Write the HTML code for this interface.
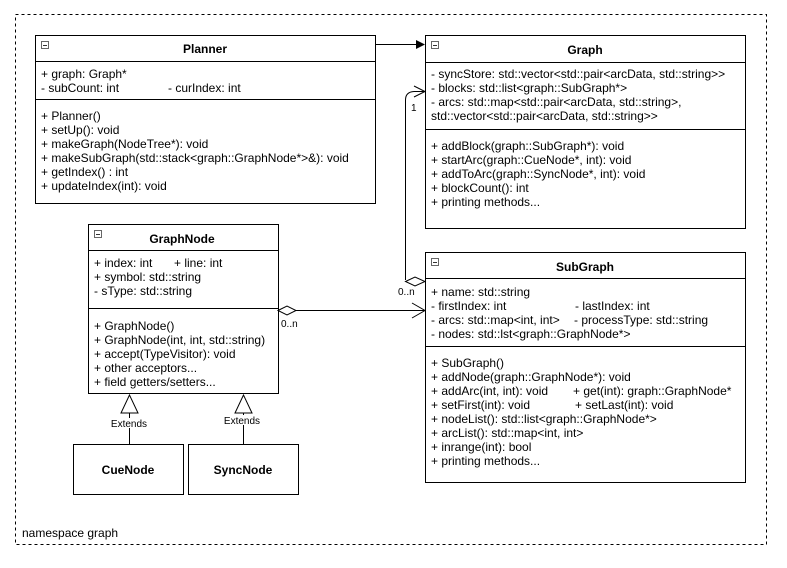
<!DOCTYPE html>
<html><head><meta charset="utf-8"><style>
html,body{margin:0;padding:0;background:#fff;}
svg text{font-family:"Liberation Sans",Arial,sans-serif;font-size:12px;fill:#000;}
.b{font-weight:bold;font-size:12px;}
.s{font-size:10px;}
</style></head><body>
<svg width="787" height="563" viewBox="0 0 787 563" xmlns="http://www.w3.org/2000/svg">
<rect width="787" height="563" fill="#fff"/>
<rect x="15.5" y="14.5" width="751" height="530" fill="none" stroke="#000" stroke-dasharray="3,3"/>
<text x="22" y="537">namespace graph</text>
<g fill="#fff" stroke="#000">
<rect x="35.5" y="35.5" width="340" height="168"/>
<rect x="425.5" y="35.5" width="320" height="193"/>
<rect x="425.5" y="252.5" width="320" height="230"/>
<rect x="88.5" y="224.5" width="190" height="169"/>
<rect x="73.5" y="444.5" width="110" height="50"/>
<rect x="188.5" y="444.5" width="110" height="50"/>
</g>
<g stroke="#000">
<line x1="35" y1="61.5" x2="375" y2="61.5"/><line x1="35" y1="99.5" x2="375" y2="99.5"/>
<line x1="425" y1="62.5" x2="745" y2="62.5"/><line x1="425" y1="129.5" x2="745" y2="129.5"/>
<line x1="425" y1="278.5" x2="745" y2="278.5"/><line x1="425" y1="346.5" x2="745" y2="346.5"/>
<line x1="88" y1="250.5" x2="278" y2="250.5"/><line x1="88" y1="308.5" x2="278" y2="308.5"/>
</g>
<g fill="#fff" stroke="#666">
<rect x="41.5" y="41.5" width="7" height="7"/><rect x="431.5" y="41.5" width="7" height="7"/>
<rect x="431.5" y="258.5" width="7" height="7"/><rect x="94.5" y="230.5" width="7" height="7"/>
</g>
<g stroke="#333"><line x1="43" y1="45.5" x2="47" y2="45.5"/><line x1="433" y1="45.5" x2="437" y2="45.5"/><line x1="433" y1="262.5" x2="437" y2="262.5"/><line x1="96" y1="234.5" x2="100" y2="234.5"/></g>
<text class="b" x="205" y="53" text-anchor="middle">Planner</text>
<text x="41" y="78">+ graph: Graph*</text>
<text x="41" y="92">- subCount: int</text><text x="168" y="92">- curIndex: int</text>
<text x="41" y="120">+ Planner()</text>
<text x="41" y="134">+ setUp(): void</text>
<text x="41" y="148">+ makeGraph(NodeTree*): void</text>
<text x="41" y="162">+ makeSubGraph(std::stack&lt;graph::GraphNode*&gt;&amp;): void</text>
<text x="41" y="176">+ getIndex() : int</text>
<text x="41" y="190">+ updateIndex(int): void</text>

<text class="b" x="585" y="54" text-anchor="middle">Graph</text>
<text x="431" y="78">- syncStore: std::vector&lt;std::pair&lt;arcData, std::string&gt;&gt;</text>
<text x="431" y="92">- blocks: std::list&lt;graph::SubGraph*&gt;</text>
<text x="431" y="106">- arcs: std::map&lt;std::pair&lt;arcData, std::string&gt;,</text>
<text x="431" y="120">std::vector&lt;std::pair&lt;arcData, std::string&gt;&gt;</text>
<text x="431" y="150">+ addBlock(graph::SubGraph*): void</text>
<text x="431" y="164">+ startArc(graph::CueNode*, int): void</text>
<text x="431" y="178">+ addToArc(graph::SyncNode*, int): void</text>
<text x="431" y="192">+ blockCount(): int</text>
<text x="431" y="206">+ printing methods...</text>

<text class="b" x="585" y="271" text-anchor="middle">SubGraph</text>
<text x="431" y="296">+ name: std::string</text>
<text x="431" y="310">- firstIndex: int</text><text x="575" y="310">- lastIndex: int</text>
<text x="431" y="324">- arcs: std::map&lt;int, int&gt;</text><text x="574" y="324">- processType: std::string</text>
<text x="431" y="338">- nodes: std::lst&lt;graph::GraphNode*&gt;</text>
<text x="431" y="367">+ SubGraph()</text>
<text x="431" y="381">+ addNode(graph::GraphNode*): void</text>
<text x="431" y="395">+ addArc(int, int): void</text><text x="573" y="395">+ get(int): graph::GraphNode*</text>
<text x="431" y="409">+ setFirst(int): void</text><text x="575" y="409">+ setLast(int): void</text>
<text x="431" y="423">+ nodeList(): std::list&lt;graph::GraphNode*&gt;</text>
<text x="431" y="437">+ arcList(): std::map&lt;int, int&gt;</text>
<text x="431" y="451">+ inrange(int): bool</text>
<text x="431" y="465">+ printing methods...</text>

<text class="b" x="182" y="243" text-anchor="middle">GraphNode</text>
<text x="94" y="267">+ index: int</text><text x="174" y="267">+ line: int</text>
<text x="94" y="281">+ symbol: std::string</text>
<text x="94" y="295">- sType: std::string</text>
<text x="94" y="330">+ GraphNode()</text>
<text x="94" y="344">+ GraphNode(int, int, std::string)</text>
<text x="94" y="358">+ accept(TypeVisitor): void</text>
<text x="94" y="372">+ other acceptors...</text>
<text x="94" y="386">+ field getters/setters...</text>

<text class="b" x="128" y="474" text-anchor="middle">CueNode</text>
<text class="b" x="243" y="474" text-anchor="middle">SyncNode</text>

<g fill="none" stroke="#000">
<line x1="375" y1="44.5" x2="416" y2="44.5"/>
<path d="M405.5 280 L405.5 100 Q405.5 92 414 91.5 L424 91.5"/>
<path d="M414 86 L425 91.5 L414 97"/>
<line x1="296" y1="310.5" x2="424" y2="310.5"/>
<path d="M412 303 L425 310.5 L412 318"/>
<line x1="129.5" y1="413" x2="129.5" y2="418"/><line x1="129.5" y1="428" x2="129.5" y2="444"/>
<line x1="243.5" y1="413" x2="243.5" y2="415"/><line x1="243.5" y1="425" x2="243.5" y2="444"/>
</g>
<path d="M416 40 L425 44.5 L416 49 Z" fill="#000"/>
<path d="M405.5 281.5 L415 277 L425 281.5 L415 286 Z" fill="#fff" stroke="#000"/>
<path d="M278 310.5 L287 306 L296 310.5 L287 315 Z" fill="#fff" stroke="#000"/>
<path d="M129.5 395 L121 413 L138 413 Z" fill="#fff" stroke="#000"/>
<path d="M243.5 395 L235 413 L252 413 Z" fill="#fff" stroke="#000"/>
<text class="s" x="411" y="111">1</text>
<text class="s" x="398" y="295">0..n</text>
<text class="s" x="281" y="327">0..n</text>
<text class="s" x="129" y="427" text-anchor="middle">Extends</text>
<text class="s" x="242" y="424" text-anchor="middle">Extends</text>
</svg>
</body></html>
